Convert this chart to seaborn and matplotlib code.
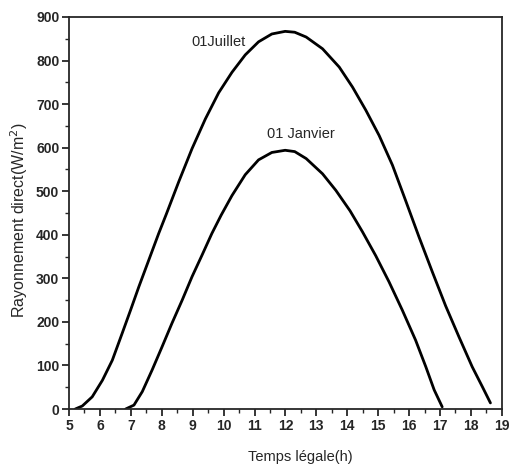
import matplotlib
matplotlib.use("Agg")
import matplotlib.pyplot as plt
import seaborn as sns
import pandas as pd
from matplotlib.ticker import MultipleLocator

# Values
hours_juillet = [5.2, 5.43, 5.75, 6.08, 6.4, 6.72, 6.99, 7.26, 7.58, 7.9, 8.15, 8.55, 8.98, 9.41,
                 9.84, 10.27, 10.7, 11.13, 11.56, 11.99, 12.3, 12.67, 13.2, 13.74, 14.17, 14.6,
                 15.03, 15.46, 15.89, 16.32, 16.75, 17.18, 17.61, 18.04, 18.37, 18.63]
rad_juillet = [0, 7, 28, 66, 112, 174, 227, 281, 342, 403, 448, 522, 598, 666,
               726, 773, 813, 843, 861, 867, 865, 854, 827, 785, 739, 686,
               628, 560, 478, 395, 315, 237, 166, 97, 51, 14]

hours_janvier = [6.83, 7.1, 7.37, 7.69, 8.01, 8.33, 8.66, 8.98, 9.3, 9.62, 9.92, 10.27, 10.7,
                 11.13, 11.56, 11.99, 12.3, 12.67, 13.2, 13.63, 14.09, 14.49, 14.92, 15.35,
                 15.78, 16.21, 16.54, 16.81, 17.07]
rad_janvier = [0, 9, 40, 90, 143, 197, 250, 304, 353, 403, 445, 490, 538,
               572, 589, 594, 591, 575, 540, 502, 455, 407, 352, 292,
               227, 158, 97, 44, 5]

df = pd.concat([
    pd.DataFrame({"t": hours_juillet, "r": rad_juillet, "jour": "01Juillet"}),
    pd.DataFrame({"t": hours_janvier, "r": rad_janvier, "jour": "01 Janvier"}),
])

sns.set_style("ticks")
plt.rcParams['font.family'] = ['Liberation Sans Narrow', 'Liberation Sans', 'DejaVu Sans']

fig = plt.figure(figsize=(5.09, 4.68), dpi=100)
ax = fig.add_axes([0.1356, 0.126, 0.8504, 0.8377])

sns.lineplot(data=df, x="t", y="r", hue="jour", palette=["black", "black"],
             linewidth=2.0, legend=False, ax=ax, sort=False, estimator=None)
for ln in ax.get_lines():
    ln.set_solid_joinstyle("round")
    ln.set_solid_capstyle("round")

ax.set_xlim(5, 19)
ax.set_ylim(0, 900)
ax.xaxis.set_major_locator(MultipleLocator(1))
ax.xaxis.set_minor_locator(MultipleLocator(0.5))
ax.yaxis.set_major_locator(MultipleLocator(100))
ax.yaxis.set_minor_locator(MultipleLocator(50))
ax.tick_params(which="major", direction="out", length=5, width=1.3, labelsize=10, pad=2)
ax.tick_params(which="minor", direction="out", length=3, width=1.0)
for lab in ax.get_xticklabels() + ax.get_yticklabels():
    lab.set_fontweight("bold")
for s in ax.spines.values():
    s.set_linewidth(1.3)

ax.set_xlabel("Temps légale(h)", fontsize=10.5, family=['Liberation Sans', 'DejaVu Sans'])
ax.set_ylabel("Rayonnement direct(W/m$^2$)", fontsize=11.5, family=['Liberation Sans', 'DejaVu Sans'])
ax.xaxis.set_label_coords(0.535, -0.105)
ax.yaxis.set_label_coords(-0.09, 0.482)

ax.text(9.84, 843, "01Juillet", ha="center", va="center", fontsize=10.5,
        family=['Liberation Sans', 'DejaVu Sans'])
ax.text(12.5, 631, "01 Janvier", ha="center", va="center", fontsize=10.5,
        family=['Liberation Sans', 'DejaVu Sans'])

fig.savefig("out.png", dpi=100)
